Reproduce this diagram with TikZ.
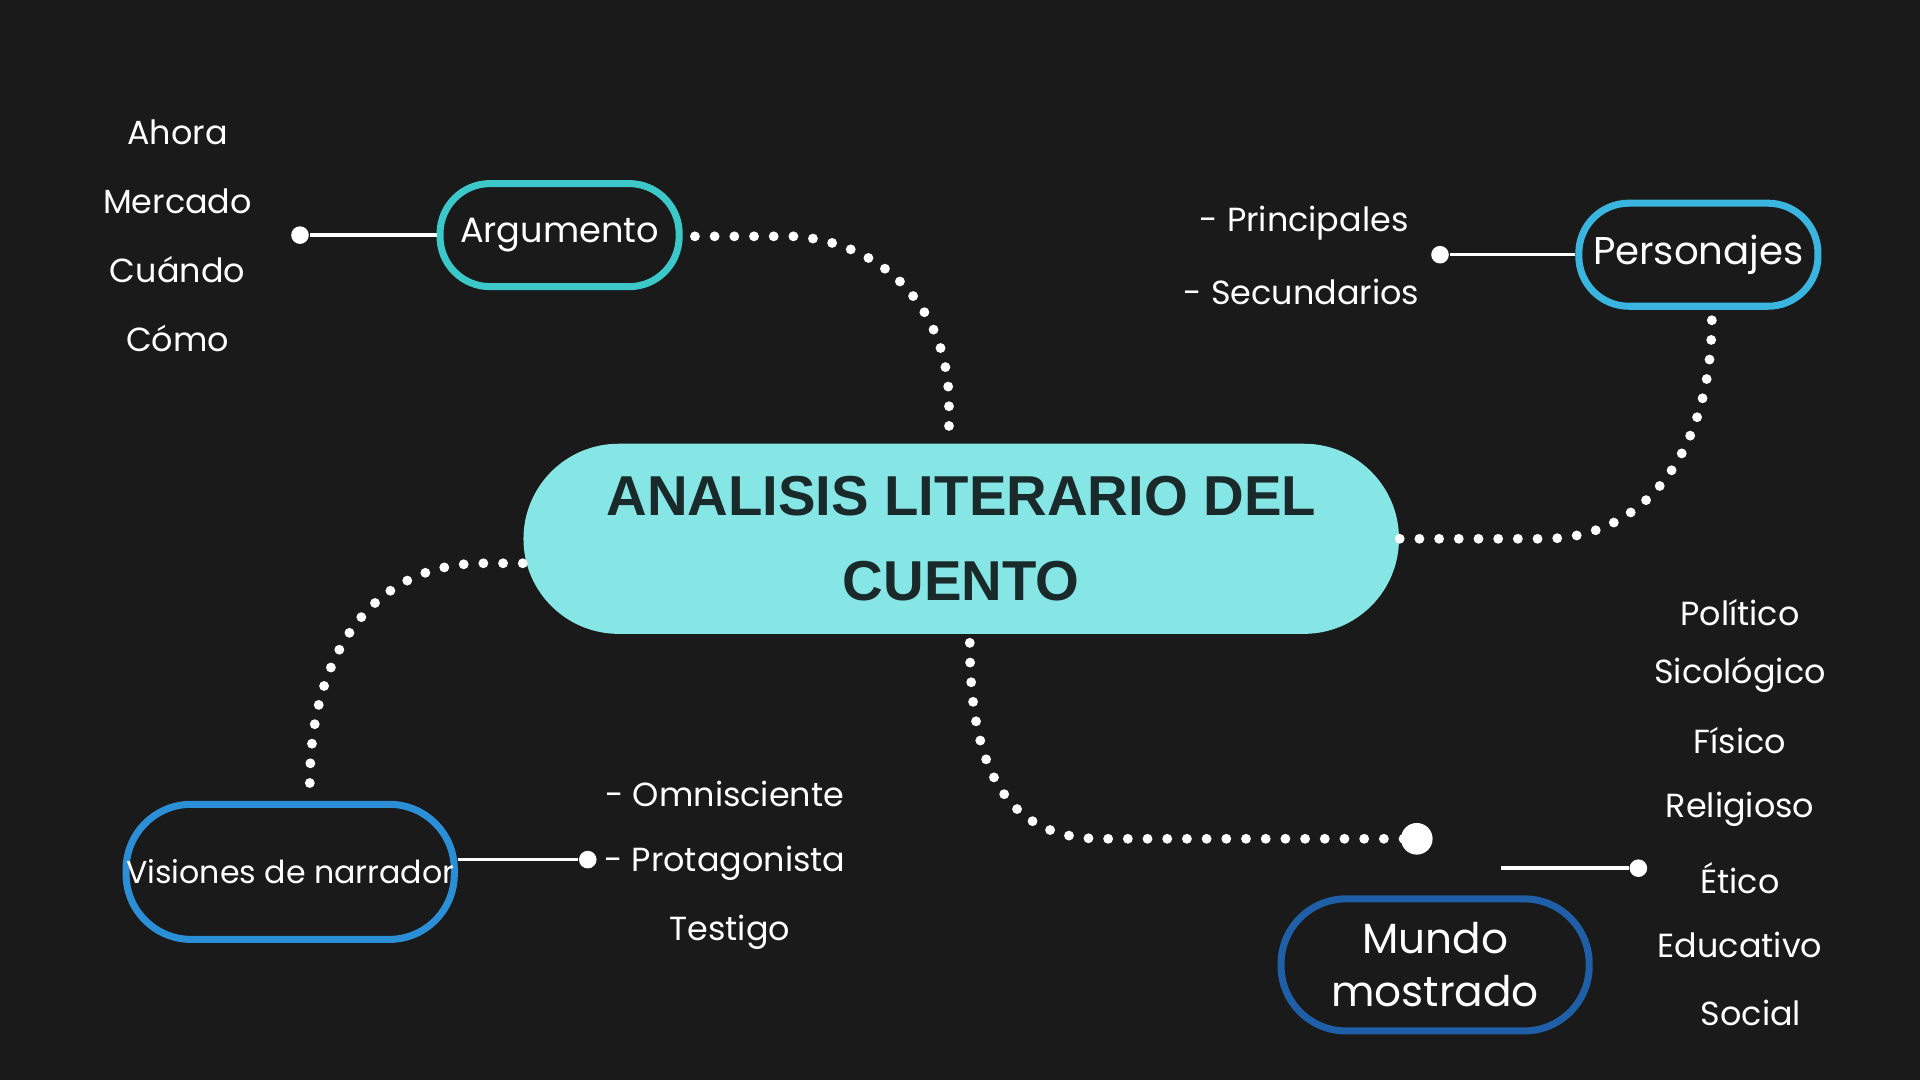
\documentclass[tikz,border=0pt]{standalone}
\usepackage{fontspec}
\setmainfont{Poppins}
\newfontfamily\titlefont{Liberation Sans}
\usetikzlibrary{positioning}
\definecolor{bgdark}{HTML}{1A1A1A}
\definecolor{cyanfill}{HTML}{86E6E6}
\definecolor{argline}{HTML}{3CC8C8}
\definecolor{perline}{HTML}{3AB5E0}
\definecolor{visline}{HTML}{2A8FD6}
\definecolor{munline}{HTML}{1F5FA8}
\definecolor{titletext}{HTML}{1A2A2A}
\tikzset{
  topic/.style={draw, line width=2pt, rounded corners=0.5cm, text=white, align=center, inner sep=0pt},
  item/.style={text=white, font=\fontsize{9.5}{11}\selectfont},
  dotline/.style={white, line width=2.8pt, line cap=round, dash pattern=on 0pt off 5.6pt},
  stem/.style={white, line width=1pt},
  knob/.style={circle, fill=white, inner sep=0pt, minimum size=5pt}
}
\begin{document}
\begin{tikzpicture}[x=0.01224cm, y=-0.01224cm]
\fill[bgdark] (0,0) rectangle (1568,882);
\useasboundingbox (0,0) rectangle (1568,882);
% main topic
\node[fill=cyanfill, rounded corners=0.95cm, minimum width=8.75cm, minimum height=1.9cm, align=center,
  text=titletext, font=\titlefont\bfseries\fontsize{16}{24}\selectfont] (main) at (785,440)
  {ANALISIS LITERARIO DEL\\CUENTO};
% sub topics
\node[topic, draw=argline, minimum width=2.39cm, minimum height=1.03cm, font=\fontsize{10}{12}\selectfont] (arg) at (457,192) {Argumento};
\node[topic, draw=perline, minimum width=2.39cm, minimum height=1.03cm, font=\fontsize{11}{13}\selectfont] (per) at (1387,208) {Personajes};
\node[topic, draw=visline, rounded corners=0.65cm, minimum width=3.08cm, minimum height=1.35cm, font=\fontsize{9}{11}\selectfont] (vis) at (237,712) {Visiones de narrador};
\node[topic, draw=munline, rounded corners=0.65cm, minimum width=3.08cm, minimum height=1.32cm, font=\fontsize{12}{15}\selectfont] (mun) at (1172,788) {Mundo\\mostrado};
% dotted links
\draw[dotline] (arg.east) ++(10,1) -- (650,193) .. controls (730,200) and (775,260) .. (775,330) -- (main.north -| 775,0);
\draw[dotline] (main.east) -- (1260,440) .. controls (1350,440) and (1398,360) .. (1398,260);
\draw[dotline] (main.west |- 0,460) -- (395,460) .. controls (300,460) and (253,540) .. (253,640);
\coordinate (munend) at (1157,685);
\draw[dotline] (792,525) .. controls (792,640) and (830,685) .. (900,685) -- (munend);
\node[knob, minimum size=9pt] at (munend) {};
% solid stems
\node[knob] (argdot) at (245,192) {};
\node[knob] (perdot) at (1176,208) {};
\node[knob] (visdot) at (480,702) {};
\node[knob] (mundot) at (1338,709) {};
\coordinate (munstart) at (1226,709);
\draw[stem] (arg.west) -- (argdot);
\draw[stem] (per.west) -- (perdot);
\draw[stem] (vis.east |- visdot) -- (visdot);
\draw[stem] (munstart) -- (mundot);
% item lists
\foreach \t/\y in {Ahora/108, Mercado/164, Cuándo/220, Cómo/276}
  \node[item] at (145,\y) {\t};
\node[item] (pri) at (1065,182) {- Principales};
\node[item] (sec) at (1063,238) {- Secundarios};
\node[item] (omn) at (592,648) {- Omnisciente};
\node[item] (pro) at (592,705) {- Protagonista};
\node[item] (tes) at (596,761) {Testigo};
\foreach \t/\y in {Político/500, Sicológico/551, Físico/605, Religioso/661, Ético/717, Educativo/772}
  \node[item] at (1421,\y) {\t};
\node[item] (soc) at (1430,827) {Social};
\end{tikzpicture}
\end{document}
